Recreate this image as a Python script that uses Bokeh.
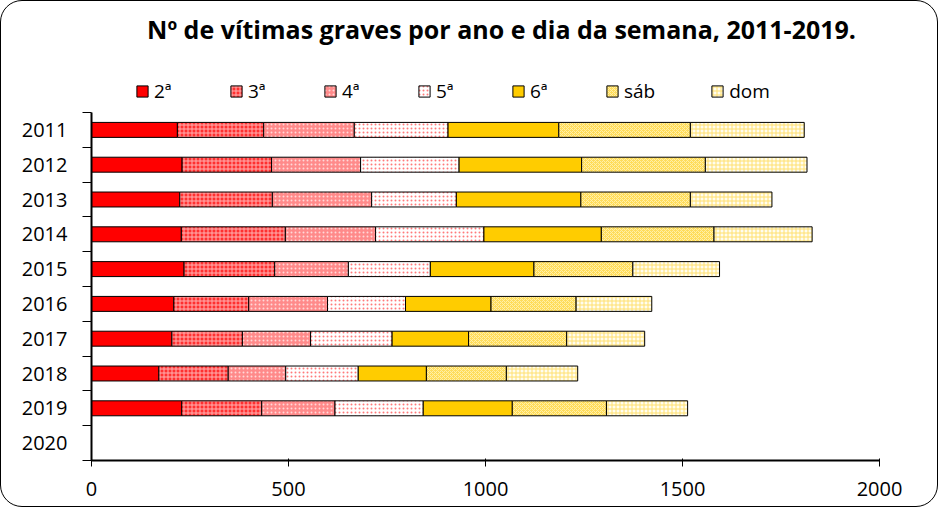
from bokeh.plotting import figure
from bokeh.layouts import column
from bokeh.models import Range1d, FixedTicker, Legend, LegendItem, Label, ColumnDataSource
from bokeh.embed import file_html
from bokeh.resources import INLINE

# ---- data ----
years = ["2011", "2012", "2013", "2014", "2015", "2016", "2017", "2018", "2019", "2020"]
days = ["2ª", "3ª", "4ª", "5ª", "6ª", "sáb", "dom"]
seg_2a = [218, 230, 224, 228, 235, 209, 204, 171, 229]
seg_3a = [219, 227, 235, 264, 230, 190, 179, 176, 203]
seg_4a = [230, 226, 252, 229, 187, 200, 173, 146, 186]
seg_5a = [238, 250, 215, 275, 208, 198, 207, 184, 224]
seg_6a = [281, 311, 316, 298, 263, 217, 194, 173, 226]
seg_sab = [334, 314, 278, 286, 251, 216, 249, 203, 239]
seg_dom = [289, 258, 207, 249, 220, 192, 198, 181, 206]
x_ticks = [0, 500, 1000, 1500, 2000]
title_text = "Nº de vítimas graves por ano e dia da semana, 2011-2019."

n = len(years)
bar_years = years[:len(seg_2a)]
centers = [n - i - 0.5 for i in range(n)]
keys = ["d%d" % i for i in range(len(days))]
src = ColumnDataSource(dict(
    y=centers[:len(bar_years)], year=bar_years,
    d0=seg_2a, d1=seg_3a, d2=seg_4a, d3=seg_5a, d4=seg_6a, d5=seg_sab, d6=seg_dom,
))

FONT = "Open Sans"
W = 936
HEAD_H = 105
MAIN_H = 400
BL, BR = 90, 58

fills = ["#ff0000", "#ff3030", "#ff8a8a", "#ffffff", "#ffcc00", "#ffdc5a", "#fffdf0"]
hatches = [" ", "+", ".", ".", " ", "x", "+"]
hcolors = ["#000000", "#ffb0b0", "#ffd8d8", "#ff7a7a", "#000000", "#fff0a8", "#ffe070"]
bar_style = dict(fill_color=fills, hatch_pattern=hatches, hatch_color=hcolors,
                 hatch_scale=4, hatch_weight=1, line_color="#000000", line_width=1)

# ---- header (title + legend) ----
head = figure(width=W, height=HEAD_H, output_backend="svg", toolbar_location=None,
              x_range=Range1d(BL, W - BR), y_range=Range1d(0, HEAD_H),
              x_axis_type=None, y_axis_type=None,
              min_border_left=BL, min_border_right=BR, min_border_top=0, min_border_bottom=0)
head.border_fill_color = None
head.background_fill_color = None
head.outline_line_color = None
head.grid.visible = False

# hidden copies of the stacked bars, used only to draw the legend swatches
proxies = head.hbar_stack(keys, y="y", height=0.43, source=src, **bar_style)
for r in proxies:
    r.visible = False

legend = Legend(items=[LegendItem(label=d, renderers=[r]) for d, r in zip(days, proxies)],
                orientation="horizontal", location=(44, 2),
                glyph_width=14, glyph_height=14, label_standoff=5, spacing=55,
                padding=0, margin=0, border_line_color=None, background_fill_alpha=0,
                inactive_fill_alpha=0,
                label_text_font=FONT, label_text_font_size="19px", label_text_color="#000000",
                label_height=20)
head.add_layout(legend, "center")

head.add_layout(Label(x=500, y=78, text=title_text, text_align="center",
                      text_baseline="alphabetic", text_font=FONT, text_font_style="bold",
                      text_font_size="25px", text_color="#000000"))

# ---- main chart ----
p = figure(width=W, height=MAIN_H, output_backend="svg", toolbar_location=None,
           x_range=Range1d(0, 2000), y_range=Range1d(0, n),
           min_border_left=BL, min_border_right=BR, min_border_top=6, min_border_bottom=46)
p.border_fill_color = None
p.background_fill_color = None
p.outline_line_color = None
p.xgrid.visible = False
p.ygrid.visible = False

p.hbar_stack(keys, y="y", height=0.43, source=src, **bar_style)

p.xaxis.ticker = FixedTicker(ticks=x_ticks)
p.xaxis.major_tick_out = 6
p.xaxis.major_tick_in = 2
p.xaxis.major_label_standoff = 15

p.yaxis.ticker = FixedTicker(ticks=centers, minor_ticks=list(range(n + 1)))
p.yaxis.major_label_overrides = {c: y for c, y in zip(centers, years)}
p.yaxis.major_tick_out = 0
p.yaxis.major_tick_in = 0
p.yaxis.minor_tick_out = 9
p.yaxis.minor_tick_in = 0
p.yaxis.major_label_standoff = 15

for ax in (p.xaxis, p.yaxis):
    ax.axis_line_width = 2
    ax.axis_line_color = "#000000"
    ax.major_tick_line_color = "#000000"
    ax.major_label_text_font = FONT
    ax.major_label_text_font_size = "20px"
    ax.major_label_text_color = "#000000"
p.xaxis.minor_tick_line_color = None
p.yaxis.minor_tick_line_color = "#000000"

layout = column(head, p, spacing=0)
layout.styles = {"border": "1.5px solid #000", "border-radius": "22px", "overflow": "hidden"}

open("out.html", "w").write(file_html(layout, INLINE))
